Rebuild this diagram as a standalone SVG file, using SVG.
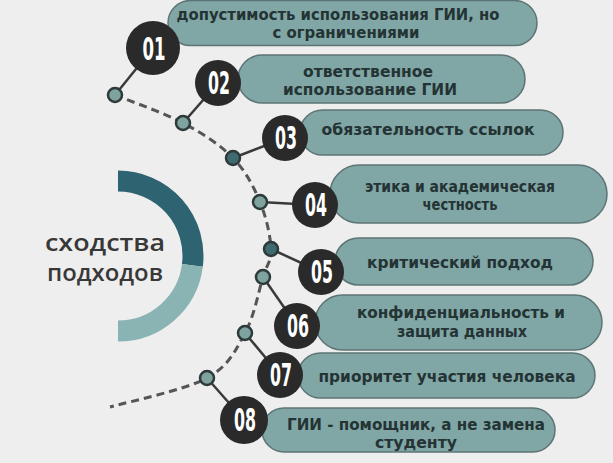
<svg xmlns="http://www.w3.org/2000/svg" width="613" height="463" viewBox="0 0 613 463">
<defs>
<style>
.bg{fill:#eeeeee}
.pill{fill:#80a6a6;stroke:#5d7474;stroke-width:1.5}
.pt{font-family:"DejaVu Sans","Liberation Sans",sans-serif;font-weight:bold;font-size:15px;fill:#243333;text-anchor:middle}
.big{fill:#2a2a2a}
.num{font-family:"DejaVu Sans Condensed","DejaVu Sans",sans-serif;font-stretch:condensed;font-weight:bold;font-size:32px;fill:#ffffff;text-anchor:middle}
.dot{fill:#7fa4a0;stroke:#2e3a3a;stroke-width:2.5}
.dotd{fill:#3e6b70;stroke:#2e3a3a;stroke-width:2.5}
.link{stroke:#3a3a3a;stroke-width:2.5;fill:none}
.dash{stroke:#555555;stroke-width:3;fill:none;stroke-dasharray:8 5}
.title{font-family:"Open Sans","DejaVu Sans",sans-serif;font-weight:600;font-size:24px;fill:#383838;text-anchor:middle}
</style>
</defs>
<rect class="bg" x="0" y="0" width="613" height="463"/>

<g id="title">
<path d="M 118 181 A 75 75 0 0 1 192.4 265.4" stroke="#2e6371" stroke-width="21" fill="none"/>
<path d="M 192.4 265.4 A 75 75 0 0 1 118 331" stroke="#8ab3b3" stroke-width="21" fill="none"/>
<text class="title" x="105" y="251" textLength="120" lengthAdjust="spacingAndGlyphs">сходства</text>
<text class="title" x="105" y="281" textLength="116" lengthAdjust="spacingAndGlyphs">подходов</text>
</g>

<g id="connectors">
<path class="dash" d="M 115 95 C 126.3 99.7 163.3 112.5 183 123 C 202.7 133.5 220.2 144.8 233 158 C 245.8 171.2 253.7 186.8 260 202 C 266.3 217.2 270.5 236.5 271 249 C 271.5 261.5 267.3 263 263 277 C 258.7 291 254.3 316.2 245 333 C 235.7 349.8 229.5 365.7 207 378 C 184.5 390.3 126.2 402.2 110 407"/>
<line class="link" x1="115" y1="95" x2="153" y2="48"/>
<line class="link" x1="183" y1="123" x2="218" y2="83"/>
<line class="link" x1="233" y1="158" x2="285" y2="138"/>
<line class="link" x1="260" y1="202" x2="315" y2="205"/>
<line class="link" x1="271" y1="249" x2="321" y2="272"/>
<line class="link" x1="263" y1="277" x2="297" y2="326"/>
<line class="link" x1="245" y1="333" x2="280" y2="375"/>
<line class="link" x1="207" y1="378" x2="244" y2="420"/>
</g>

<g id="dots">
<circle class="dot" cx="115" cy="95" r="7"/>
<circle class="dot" cx="183" cy="123" r="7"/>
<circle class="dotd" cx="233" cy="158" r="7"/>
<circle class="dot" cx="260" cy="202" r="7"/>
<circle class="dotd" cx="271" cy="249" r="7"/>
<circle class="dot" cx="263" cy="277" r="7"/>
<circle class="dot" cx="245" cy="333" r="7"/>
<circle class="dot" cx="207" cy="378" r="7"/>
</g>

<g id="node1">
<rect class="pill" x="168" y="0.5" width="369" height="45" rx="22.5"/>
<circle class="big" cx="153" cy="48" r="27"/>
<text class="num" x="154" y="60" textLength="23" lengthAdjust="spacingAndGlyphs">01</text>
<text class="pt" x="338" y="20" textLength="323" lengthAdjust="spacingAndGlyphs">допустимость использования ГИИ, но</text>
<text class="pt" x="346" y="38" textLength="147" lengthAdjust="spacingAndGlyphs">с ограничениями</text>
</g>

<g id="node2">
<rect class="pill" x="238" y="55" width="287" height="48" rx="24"/>
<circle class="big" cx="218" cy="83" r="23"/>
<text class="num" x="219" y="94" textLength="22" lengthAdjust="spacingAndGlyphs">02</text>
<text class="pt" x="368" y="77" textLength="130" lengthAdjust="spacingAndGlyphs">ответственное</text>
<text class="pt" x="370" y="95" textLength="174" lengthAdjust="spacingAndGlyphs">использование ГИИ</text>
</g>

<g id="node3">
<rect class="pill" x="300" y="110" width="263" height="45" rx="22.5"/>
<circle class="big" cx="285" cy="138" r="23"/>
<text class="num" x="286" y="149" textLength="22" lengthAdjust="spacingAndGlyphs">03</text>
<text class="pt" x="428" y="135" textLength="213" lengthAdjust="spacingAndGlyphs">обязательность ссылок</text>
</g>

<g id="node4">
<rect class="pill" x="330" y="165" width="277" height="58" rx="29"/>
<circle class="big" cx="315" cy="205" r="23"/>
<text class="num" x="316" y="216" textLength="22" lengthAdjust="spacingAndGlyphs">04</text>
<text class="pt" x="460" y="192" textLength="190" lengthAdjust="spacingAndGlyphs">этика и академическая</text>
<text class="pt" x="460" y="210" textLength="75" lengthAdjust="spacingAndGlyphs">честность</text>
</g>

<g id="node5">
<rect class="pill" x="335" y="238" width="258" height="47" rx="23.5"/>
<circle class="big" cx="321" cy="272" r="23"/>
<text class="num" x="322" y="283" textLength="22" lengthAdjust="spacingAndGlyphs">05</text>
<text class="pt" x="460" y="268" textLength="186" lengthAdjust="spacingAndGlyphs">критический подход</text>
</g>

<g id="node6">
<rect class="pill" x="315" y="295" width="287" height="55" rx="27.5"/>
<circle class="big" cx="297" cy="326" r="23"/>
<text class="num" x="298" y="337" textLength="22" lengthAdjust="spacingAndGlyphs">06</text>
<text class="pt" x="461" y="318" textLength="208" lengthAdjust="spacingAndGlyphs">конфиденциальность и</text>
<text class="pt" x="462" y="337" textLength="130" lengthAdjust="spacingAndGlyphs">защита данных</text>
</g>

<g id="node7">
<rect class="pill" x="298" y="353" width="297" height="45" rx="22.5"/>
<circle class="big" cx="280" cy="375" r="23"/>
<text class="num" x="281" y="386" textLength="22" lengthAdjust="spacingAndGlyphs">07</text>
<text class="pt" x="447" y="382" textLength="257" lengthAdjust="spacingAndGlyphs">приоритет участия человека</text>
</g>

<g id="node8">
<rect class="pill" x="262" y="408" width="293" height="44" rx="22"/>
<circle class="big" cx="244" cy="420" r="24"/>
<text class="num" x="245" y="431" textLength="22" lengthAdjust="spacingAndGlyphs">08</text>
<text class="pt" x="416" y="430" textLength="258" lengthAdjust="spacingAndGlyphs">ГИИ - помощник, а не замена</text>
<text class="pt" x="416" y="448" textLength="82" lengthAdjust="spacingAndGlyphs">студенту</text>
</g>
</svg>
